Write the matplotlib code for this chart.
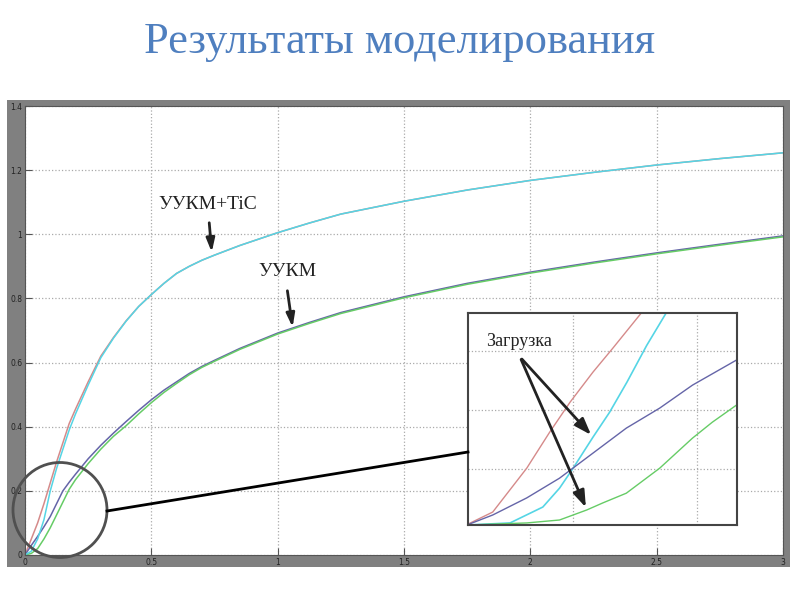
import matplotlib.pyplot as plt
from matplotlib.patches import Rectangle, Ellipse
from matplotlib.lines import Line2D

# %%
# main curves
x = [0, 0.025, 0.05, 0.075, 0.1, 0.125, 0.15, 0.175, 0.2, 0.25, 0.3, 0.35, 0.4, 0.45,
     0.5, 0.55, 0.6, 0.65, 0.7, 0.75, 0.85, 1.0, 1.125, 1.25, 1.5, 1.75, 2.0, 2.25,
     2.5, 2.75, 3.0]
red = [0, 0.05, 0.1, 0.16, 0.225, 0.29, 0.35, 0.41, 0.455, 0.54, 0.62, 0.678, 0.73,
       0.775, 0.812, 0.847, 0.878, 0.9, 0.919, 0.935, 0.965, 1.005, 1.035, 1.063,
       1.103, 1.138, 1.168, 1.193, 1.216, 1.236, 1.254]
cyan = [0, 0.012, 0.05, 0.11, 0.2, 0.27, 0.33, 0.39, 0.44, 0.53, 0.615, 0.676, 0.729,
        0.775, 0.812, 0.847, 0.878, 0.9, 0.919, 0.935, 0.965, 1.005, 1.035, 1.063,
        1.103, 1.138, 1.168, 1.193, 1.216, 1.236, 1.254]
blue = [0, 0.03, 0.058, 0.088, 0.12, 0.16, 0.2, 0.227, 0.252, 0.3, 0.342, 0.38, 0.416,
        0.451, 0.484, 0.514, 0.54, 0.566, 0.588, 0.607, 0.644, 0.692, 0.725, 0.756,
        0.805, 0.847, 0.882, 0.913, 0.942, 0.969, 0.995]
green = [0, 0.005, 0.02, 0.05, 0.085, 0.125, 0.165, 0.205, 0.235, 0.285, 0.33, 0.37,
         0.403, 0.44, 0.475, 0.507, 0.535, 0.562, 0.585, 0.604, 0.641, 0.689, 0.722,
         0.753, 0.802, 0.844, 0.879, 0.91, 0.939, 0.966, 0.992]

xticks = [0, 0.5, 1, 1.5, 2, 2.5, 3]
xticklabels = ["0", "0.5", "1", "1.5", "2", "2.5", "3"]
yticks = [0, 0.2, 0.4, 0.6, 0.8, 1.0, 1.2, 1.4]
yticklabels = ["0", "0.2", "0.4", "0.6", "0.8", "1", "1.2", "1.4"]

# zoomed start (inset)
ins_red_x = [0.003, 0.007, 0.0125, 0.0162, 0.0195, 0.0232, 0.0264, 0.0311, 0.033]
ins_red_y = [0.0013, 0.0054, 0.0203, 0.0325, 0.0427, 0.0529, 0.061, 0.0732, 0.078]
ins_cyan_x = [0.003, 0.0098, 0.0151, 0.0178, 0.02, 0.0232, 0.0259, 0.0287, 0.0319, 0.0351]
ins_cyan_y = [0.001, 0.0017, 0.0071, 0.0135, 0.0203, 0.0308, 0.0393, 0.0495, 0.062, 0.0732]
ins_blue_x = [0.0032, 0.007, 0.0125, 0.0178, 0.0232, 0.0286, 0.034, 0.0393, 0.0464]
ins_blue_y = [0.0013, 0.0044, 0.0102, 0.0169, 0.0254, 0.0339, 0.0407, 0.0485, 0.057]
ins_green_x = [0.003, 0.0125, 0.0178, 0.0222, 0.0248, 0.0286, 0.034, 0.0393, 0.0425, 0.0464]
ins_green_y = [0.001, 0.0017, 0.0027, 0.0061, 0.0085, 0.0118, 0.0203, 0.0305, 0.0359, 0.0417]

C_RED = "#d58a8a"
C_CYAN = "#55d5e5"
C_BLUE = "#6565a8"
C_GREEN = "#66cc66"

W, H = 800, 600


def px(x, y):
    # пиксели -> доли фигуры
    return x / W, 1 - y / H


fig = plt.figure(figsize=(8, 6), dpi=100)

# серая рамка
fig.patches.append(Rectangle(px(7, 567), 783 / W, 467 / H, transform=fig.transFigure,
                             facecolor="#808080", edgecolor="none", zorder=-5))

fig.text(0.5, px(0, 42)[1], "Результаты моделирования", ha="center", va="center",
         fontsize=32, color="#4f7fbf", family="Liberation Serif")

ax = fig.add_axes([25 / W, 1 - 555 / H, 758 / W, 449 / H])
ax.plot(x, red, color=C_RED, lw=1.1)
ax.plot(x, blue, color=C_BLUE, lw=1.1)
ax.plot(x, green, color=C_GREEN, lw=1.1)
ax.plot(x, cyan, color=C_CYAN, lw=1.1)
ax.set_xlim(0, 3)
ax.set_ylim(0, 1.4)
ax.set_xticks(xticks)
ax.set_xticklabels(xticklabels)
ax.set_yticks(yticks)
ax.set_yticklabels(yticklabels)
ax.tick_params(direction="in", length=5, labelsize=5.5, labelcolor="#222222", pad=2,
               color="#555555")
ax.grid(True, linestyle=":", color="#aaaaaa", lw=0.9)
for s in ax.spines.values():
    s.set_color("#555555")
    s.set_linewidth(0.8)

# подписи
arrow = dict(arrowstyle="-|>,head_width=0.25,head_length=0.8", color="#222222", lw=2)
fig.text(*px(208, 204), "УУКМ+TiC", ha="center", va="center", fontsize=14,
         family="Liberation Serif", color="#222222")
fig.text(*px(287, 272), "УУКМ", ha="center", va="center", fontsize=14,
         family="Liberation Serif", color="#222222")
ax.annotate("", xy=px(212, 255), xytext=px(209, 220), xycoords="figure fraction",
            textcoords="figure fraction", arrowprops=arrow)
ax.annotate("", xy=px(293, 330), xytext=px(287, 288), xycoords="figure fraction",
            textcoords="figure fraction", arrowprops=arrow)

# круг и линия к врезке
fig.add_artist(Ellipse(px(60, 510), 94 / W, 95 / H, transform=fig.transFigure,
                       facecolor="none", edgecolor="#505050", lw=2, zorder=5))
fig.add_artist(Line2D([107 / W, 468 / W], [1 - 511 / H, 1 - 452 / H],
                      transform=fig.transFigure, color="black", lw=2, zorder=5))

# врезка
axi = fig.add_axes([468 / W, 1 - 525 / H, 269 / W, 212 / H])
axi.plot(ins_red_x, ins_red_y, color=C_RED, lw=1)
axi.plot(ins_cyan_x, ins_cyan_y, color=C_CYAN, lw=1.2)
axi.plot(ins_blue_x, ins_blue_y, color=C_BLUE, lw=1)
axi.plot(ins_green_x, ins_green_y, color=C_GREEN, lw=1)
axi.set_xlim(0.003, 0.0465)
axi.set_ylim(0.001, 0.073)
axi.set_xticks([0.02, 0.04])
axi.set_yticks([0.02, 0.04, 0.06])
axi.tick_params(length=0, labelbottom=False, labelleft=False)
axi.grid(True, linestyle=":", color="#aaaaaa", lw=0.9)
for s in axi.spines.values():
    s.set_color("#444444")
    s.set_linewidth(1.5)

arrow2 = dict(arrowstyle="-|>,head_width=0.35,head_length=1.0", color="#222222", lw=2)
fig.text(*px(519, 341), "Загрузка", ha="center", va="center", fontsize=13,
         family="Liberation Serif", color="#222222")
axi.annotate("", xy=px(593, 437), xytext=px(520, 357), xycoords="figure fraction",
             textcoords="figure fraction", arrowprops=arrow2)
axi.annotate("", xy=px(587, 510), xytext=px(520, 357), xycoords="figure fraction",
             textcoords="figure fraction", arrowprops=arrow2)

fig.savefig("out.png", dpi=100)
